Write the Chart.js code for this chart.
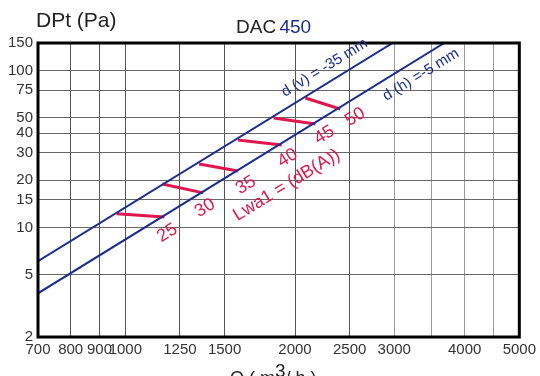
<!DOCTYPE html>
<html>
<head>
<meta charset="utf-8">
<script src="https://cdn.jsdelivr.net/npm/chart.js@4/dist/chart.umd.min.js"></script>
<style>
  html, body { margin: 0; padding: 0; background: #fff; }
  canvas { display: block; }
</style>
</head>
<body>
<canvas id="dacChart" width="540" height="376"></canvas>
<script>
// axis ticks (Q in m3/h, DPt in Pa)
const xTickValues = [700, 800, 900, 1000, 1250, 1500, 2000, 2500, 3000, 3500, 4000, 4500, 5000];
const xTickLabels = ['700', '800', '900', '1000', '1250', '1500', '2000', '2500', '3000', '', '4000', '', '5000'];
const yTickValues = [2, 5, 10, 15, 20, 30, 40, 50, 75, 100, 150];
const yTickLabels = ['2', '5', '10', '15', '20', '30', '40', '50', '75', '100', '150'];

// blade position lines
const upperQ = [700, 2980];   // d (v) = -35 mm
const upperP = [6.1, 150];
const lowerQ = [700, 3680];   // d (h) = -5 mm
const lowerP = [3.8, 150];

// Lwa1 iso-lines between the two blade lines
const lwaLevels = [25, 30, 35, 40, 45, 50];
const lwaStartQ = [965, 1163, 1352, 1584, 1833, 2087];
const lwaStartP = [12.2, 18.9, 25.4, 36.1, 49.9, 66.9];
const lwaEndQ = [1173, 1374, 1584, 1894, 2174, 2406];
const lwaEndP = [11.65, 16.6, 22.9, 33.5, 45.6, 56.9];
// where the level numbers sit
const lwaLabelQ = [1187, 1385, 1636, 1941, 2256, 2558];
const lwaLabelP = [9.2, 13.3, 18.6, 27.7, 38.9, 50.6];

const BLUE = '#1b2d8f';
const RED = '#e0174d';
const FONT = "'Liberation Sans', Arial, sans-serif";

const toPoints = (qs, ps) => qs.map((q, i) => ({ x: q, y: ps[i] }));

const datasets = [
    { data: toPoints(upperQ, upperP), borderColor: BLUE, borderWidth: 2 },
    { data: toPoints(lowerQ, lowerP), borderColor: BLUE, borderWidth: 2 }
];
lwaLevels.forEach((lvl, i) => {
    datasets.push({
        label: 'Lwa ' + lvl,
        data: [{ x: lwaStartQ[i], y: lwaStartP[i] }, { x: lwaEndQ[i], y: lwaEndP[i] }],
        borderColor: RED,
        borderWidth: 3
    });
});

// titles, frame and the rotated text along the lines
const annotate = {
    id: 'annotate',
    afterDraw(chart) {
        const { ctx, chartArea: a, scales: { x, y } } = chart;
        ctx.save();
        ctx.strokeStyle = '#000';
        ctx.lineWidth = 3;
        ctx.strokeRect(a.left, a.top, a.right - a.left, a.bottom - a.top);

        const ang = Math.atan2(
            y.getPixelForValue(upperP[1]) - y.getPixelForValue(upperP[0]),
            x.getPixelForValue(upperQ[1]) - x.getPixelForValue(upperQ[0])
        );
        const rotText = (txt, q, p, size, color) => {
            ctx.save();
            ctx.translate(x.getPixelForValue(q), y.getPixelForValue(p));
            ctx.rotate(ang);
            ctx.font = size + 'px ' + FONT;
            ctx.fillStyle = color;
            ctx.textAlign = 'center';
            ctx.textBaseline = 'middle';
            ctx.fillText(txt, 0, 0);
            ctx.restore();
        };

        rotText('d (v) = -35 mm', 2256, 104, 15, BLUE);
        rotText('d (h) =-5 mm', 3345, 94, 15, BLUE);
        lwaLevels.forEach((lvl, i) => rotText(String(lvl), lwaLabelQ[i], lwaLabelP[i], 18, RED));
        rotText('Lwa1 = (dB(A))', 1933, 18.6, 18, RED);

        // y axis title
        ctx.textAlign = 'left';
        ctx.textBaseline = 'alphabetic';
        ctx.fillStyle = '#222';
        ctx.font = '21px ' + FONT;
        ctx.fillText('DPt (Pa)', 36, 27);

        // chart title, two colours
        ctx.font = '19px ' + FONT;
        ctx.fillStyle = '#222';
        ctx.fillText('DAC', 236, 33);
        const w = ctx.measureText('DAC ').width;
        ctx.fillStyle = BLUE;
        ctx.fillText('450', 236 + w - 2, 33);

        // x axis title, cut at the bottom edge
        ctx.fillStyle = '#222';
        ctx.font = '18px ' + FONT;
        let cx = 230;
        ctx.fillText('Q ( m', cx, 384);
        cx += ctx.measureText('Q ( m').width;
        ctx.font = '19px ' + FONT;
        ctx.fillText('3', cx, 377);
        cx += ctx.measureText('3').width;
        ctx.font = '18px ' + FONT;
        ctx.fillText('/ h )', cx, 384);
        ctx.restore();
    }
};

const ctx = document.getElementById('dacChart').getContext('2d');
new Chart(ctx, {
    type: 'line',
    data: { datasets },
    options: {
        responsive: false,
        animation: false,
        parsing: false,
        elements: { point: { radius: 0 }, line: { tension: 0 } },
        layout: { padding: { top: 43, right: 18, left: 0, bottom: 0 } },
        plugins: { legend: { display: false }, tooltip: { enabled: false } },
        scales: {
            x: {
                type: 'logarithmic',
                min: 700,
                max: 5000,
                afterBuildTicks: s => { s.ticks = xTickValues.map(v => ({ value: v })); },
                afterFit: s => { s.height = 39; },
                ticks: {
                    autoSkip: false,
                    maxRotation: 0,
                    padding: 4,
                    color: '#333',
                    font: { family: FONT, size: 15 },
                    callback: (v, i) => xTickLabels[i]
                },
                grid: {
                    drawTicks: false,
                    lineWidth: 1,
                    color: c => (c.tick && c.tick.value >= 3000 ? '#9a9a9a' : '#555')
                },
                border: { display: false }
            },
            y: {
                type: 'logarithmic',
                min: 2,
                max: 150,
                afterBuildTicks: s => { s.ticks = yTickValues.map(v => ({ value: v })); },
                afterFit: s => { s.width = 38; },
                ticks: {
                    autoSkip: false,
                    padding: 5,
                    color: '#333',
                    font: { family: FONT, size: 15 },
                    callback: (v, i) => yTickLabels[i]
                },
                grid: { drawTicks: false, lineWidth: 1, color: '#666' },
                border: { display: false }
            }
        }
    },
    plugins: [annotate]
});
</script>
</body>
</html>
